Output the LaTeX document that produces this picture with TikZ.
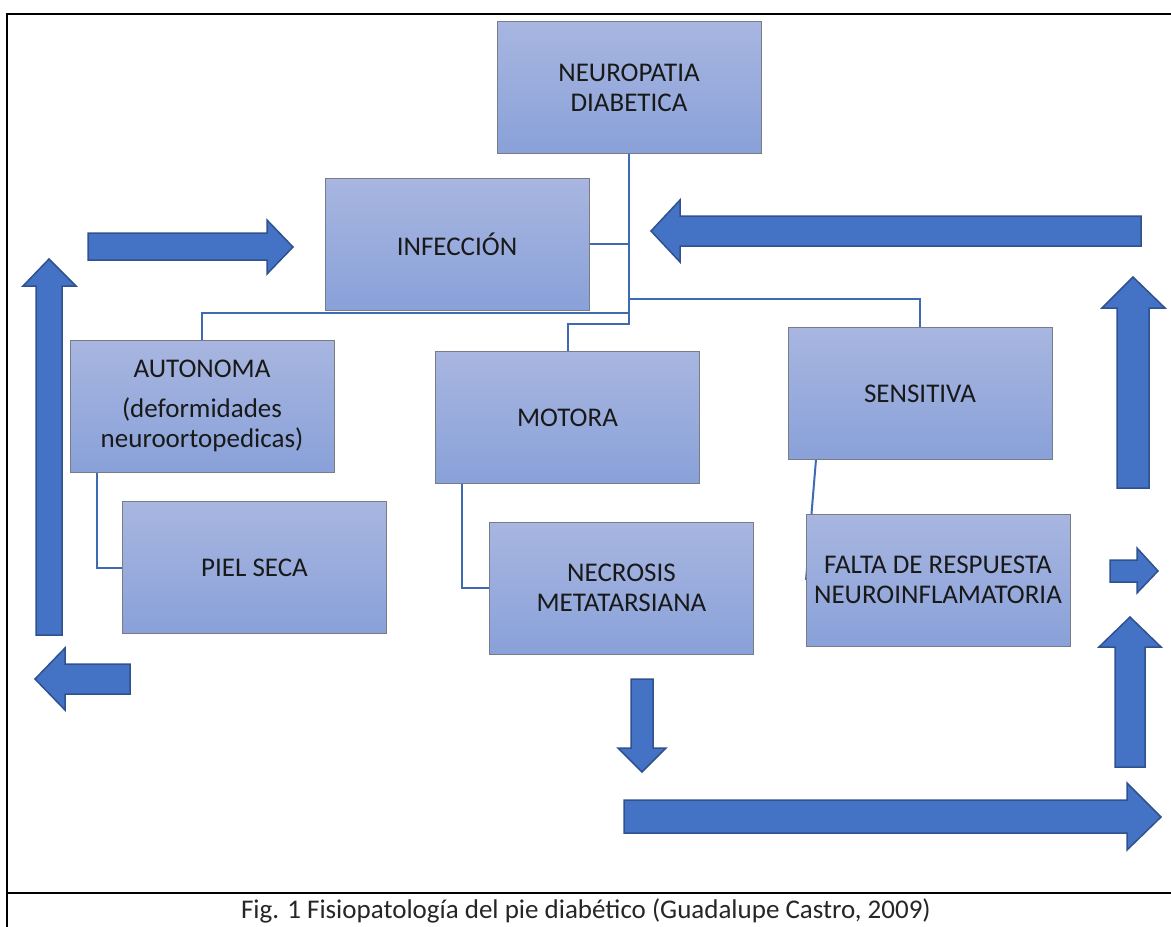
\documentclass[tikz,border=0pt]{standalone}
\usepackage{fontspec}
\setmainfont{Carlito}
\usetikzlibrary{backgrounds}
\definecolor{arrowfill}{RGB}{68,114,196}
\definecolor{arrowedge}{RGB}{47,82,143}
\definecolor{boxtop}{RGB}{168,182,224}
\definecolor{boxbot}{RGB}{137,161,217}
\definecolor{boxedge}{RGB}{120,124,135}
\definecolor{linkcol}{RGB}{62,106,180}
\begin{document}
\begin{tikzpicture}[x=1pt,y=-1pt,
  box/.style={rectangle, draw=boxedge, line width=1pt, top color=boxtop, bottom color=boxbot,
    minimum width=264pt, minimum height=132pt, inner sep=0pt, outer sep=0pt, align=center,
    font=\fontsize{27}{30}\selectfont, text=black!90},
  link/.style={draw=linkcol, line width=2pt},
  blockarrow/.style={fill=arrowfill, draw=arrowedge, line width=1.5pt, line join=miter},
  frameline/.style={line width=2.5pt, draw=black}]
\useasboundingbox (0,0) rectangle (1171,927);
% frame
\draw[frameline] (1171,14) -- (7,14) -- (7,927);
\draw[frameline] (7,893) -- (1171,893);
\node[font=\fontsize{27}{30}\selectfont, text=black!85] (cap) at (586,911) {Fig. 1 Fisiopatología del pie diabético (Guadalupe Castro, 2009)};
% boxes
\node[box] (neuro) at (629,87.5) {NEUROPATIA\\DIABETICA};
\node[box] (infec) at (457,244) {INFECCIÓN};
\node[box] (auto) at (202,406) {AUTONOMA\\[10pt](deformidades\\neuroortopedicas)};
\node[box] (piel) at (254.5,567.5) {PIEL SECA};
\node[box] (motora) at (567.5,417.5) {MOTORA};
\node[box] (necro) at (621.5,588) {NECROSIS\\METATARSIANA};
\node[box] (sens) at (920,393.5) {SENSITIVA};
\node[box] (falta) at (938,580) {FALTA DE RESPUESTA\\NEUROINFLAMATORIA};
% junction points
\coordinate (ja) at (202,313);
\coordinate (jm) at (567.5,324);
\coordinate (js) at (920,299);
\begin{scope}[on background layer]
\draw[link] (infec.east) -- (infec.east -| neuro.south);
\draw[link] (neuro.south) |- (ja) -- (auto.north);
\draw[link] (neuro.south) |- (jm) -- (motora.north);
\draw[link] (neuro.south) |- (js) -- (sens.north);
\draw[link] ([xshift=27pt]auto.south west) |- (piel.west);
\draw[link] ([xshift=26pt]motora.south west) |- (necro.west);
\draw[link] ([xshift=28pt]sens.south west) -- (falta.west);
\end{scope}
% block arrows
\draw[blockarrow] (88,233)--(267,233)--(267,220)--(293,247)--(267,274)--(267,260)--(88,260)--cycle;
\draw[blockarrow] (36,635)--(36,286)--(23,286)--(49,259)--(76,286)--(62,286)--(62,635)--cycle;
\draw[blockarrow] (130,664)--(65,664)--(65,648)--(35,679)--(65,710)--(65,694)--(130,694)--cycle;
\draw[blockarrow] (1141,216)--(680,216)--(680,200)--(651,231)--(680,262)--(680,246)--(1141,246)--cycle;
\draw[blockarrow] (1117,488)--(1117,308)--(1102,308)--(1133,277)--(1165,308)--(1149,308)--(1149,488)--cycle;
\draw[blockarrow] (1110,560)--(1137,560)--(1137,548)--(1158,571)--(1137,593)--(1137,582)--(1110,582)--cycle;
\draw[blockarrow] (1115,767)--(1115,647)--(1099,647)--(1130,617)--(1161,647)--(1145,647)--(1145,767)--cycle;
\draw[blockarrow] (631,679)--(653,679)--(653,748)--(666,748)--(642,772)--(618,748)--(631,748)--cycle;
\draw[blockarrow] (624,800)--(1127,800)--(1127,783)--(1161,817)--(1127,850)--(1127,833)--(624,833)--cycle;
\end{tikzpicture}
\end{document}
